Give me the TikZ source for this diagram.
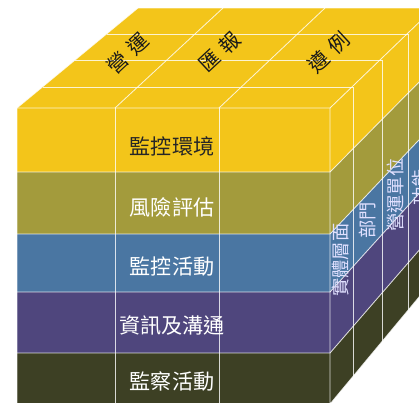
\documentclass[tikz,border=0pt]{standalone}
\usepackage{fontspec}
\newfontfamily\cjk{Noto Sans CJK TC}
\definecolor{cubeyellow}{HTML}{F3C51A}
\definecolor{cubeolive}{HTML}{A39B3C}
\definecolor{cubeblue}{HTML}{4A76A2}
\definecolor{cubepurple}{HTML}{4F467D}
\definecolor{cubedark}{HTML}{3D4024}

\begin{document}
\begin{tikzpicture}[x=0.025cm,y=-0.025cm,
		gridline/.style={draw=white, draw opacity=0.8, line width=0.6pt},
		frontlabel/.style={font=\cjk\fontsize{15}{15}\selectfont, text=white},
		toplabel/.style={font=\cjk\fontsize{14.5}{14.5}\selectfont, text=black!90, rotate=43},
		sidelabel/.style={font=\cjk\fontsize{13}{13}\selectfont, text=white!88!blue, rotate=90}]
		\useasboundingbox (0,0) rectangle (419,402);
		\clip (0,0) rectangle (419,402);
		
		% front face
		\fill[cubeyellow] (17,108) rectangle (330,172);
		\fill[cubeolive] (17,172) rectangle (330,234);
		\fill[cubeblue] (17,234) rectangle (330,292);
		\fill[cubepurple] (17,292) rectangle (330,353);
		\fill[cubedark] (17,353) rectangle (330,404);
		
		% top and right face
		\fill[cubeyellow] (17,108) -- (138,8) -- (434,8) -- (330,108) -- cycle;
		\fill[cubeyellow] (330,108) -- (434,8) -- (434,67) -- (330,172) -- cycle;
		\fill[cubeolive] (330,172) -- (434,67) -- (434,124) -- (330,234) -- cycle;
		\fill[cubeblue] (330,234) -- (434,124) -- (434,177) -- (330,292) -- cycle;
		\fill[cubepurple] (330,292) -- (434,177) -- (434,233) -- (330,353) -- cycle;
		\fill[cubedark] (330,353) -- (434,233) -- (434,279) -- (330,404) -- cycle;
		
		\draw[gridline] (17,404) -- (17,108) -- (138,8) -- (434,8);
		\draw[gridline] (17,108) -- (330,108) -- (434,8);
		\draw[gridline] (43,87) -- (353,87);
		\draw[gridline] (75,60) -- (382,60);
		\draw[gridline] (107,34) -- (408,34);
		\draw[gridline] (115,108) -- (223,8);
		\draw[gridline] (219,108) -- (325,8);
		
		\draw[gridline] (115,108) -- (115,404);
		\draw[gridline] (219,108) -- (219,404);
		\draw[gridline] (330,108) -- (330,404) -- (434,279);
		\draw[gridline] (353,87) -- (353,377);
		\draw[gridline] (382,60) -- (382,342);
		\draw[gridline] (408,34) -- (408,310);
		
		\draw[gridline] (17,172) -- (330,172) -- (434,67);
		\draw[gridline] (17,234) -- (330,234) -- (434,124);
		\draw[gridline] (17,292) -- (330,292) -- (434,177);
		\draw[gridline] (17,353) -- (330,353) -- (434,233);
		
		\node[toplabel] (ops) at (128,53) {營\hspace{0.35em}運};
		\node[toplabel] (rep) at (220,52) {匯\hspace{0.35em}報};
		\node[toplabel] (comp) at (329,52) {遵\hspace{0.35em}例};
		
		\node[frontlabel, text=black!85] (env) at (172,146) {監控環境};
		\node[frontlabel] (risk) at (172,207) {風險評估};
		\node[frontlabel] (act) at (172,266) {監控活動};
		\node[frontlabel] (info) at (172,326) {資訊及溝通};
		\node[frontlabel] (mon) at (172,381) {監察活動};
		
		\node[sidelabel] (entity) at (341,260) {實體層面};
		\node[sidelabel] (div) at (368,220) {部門};
		\node[sidelabel] (unit) at (395,195) {營運單位};
		\node[sidelabel] (func) at (421,187) {功能};
	\end{tikzpicture}
\end{document}
